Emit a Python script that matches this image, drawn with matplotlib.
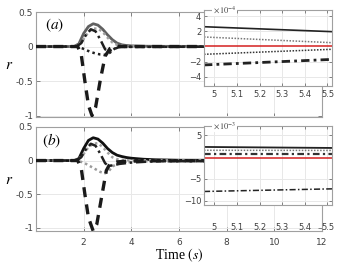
import matplotlib
matplotlib.use("Agg")
import matplotlib.pyplot as plt

plt.rcParams['mathtext.fontset'] = 'stix'
plt.rcParams['font.family'] = ['DejaVu Sans']

# ---------------- main data (a) ----------------
a_solid_t = [0, 1.6, 1.8, 2.0, 2.2, 2.4, 2.6, 2.8, 3.0, 3.2, 3.4, 3.6, 3.8, 4.0, 4.5, 5, 12]
a_solid_r = [0, 0, 0.04, 0.19, 0.29, 0.33, 0.31, 0.25, 0.17, 0.10, 0.05, 0.025, 0.015, 0.01, 0.005, 0.003, 0]
a_gdot_t = [0, 1.6, 1.8, 2.0, 2.2, 2.4, 2.6, 2.8, 3.0, 3.2, 3.4, 3.6, 4.0, 12]
a_gdot_r = [0, 0, 0.02, 0.11, 0.21, 0.26, 0.26, 0.21, 0.13, 0.06, 0.025, 0.01, 0.003, 0]
a_kdot_t = [0, 1.7, 1.9, 2.1, 2.3, 2.5, 2.7, 2.9, 3.1, 3.3, 3.5, 12]
a_kdot_r = [0, 0, -0.02, -0.05, -0.08, -0.10, -0.115, -0.12, -0.09, -0.03, -0.005, 0]
a_dd_t = [0, 1.7, 1.9, 2.1, 2.3, 2.5, 2.7, 2.9, 3.05, 3.25, 3.5, 12]
a_dd_r = [0, 0, 0.05, 0.17, 0.25, 0.22, 0.10, -0.04, -0.07, -0.04, -0.005, 0]
a_dash_t = [0, 1.75, 1.9, 2.05, 2.2, 2.35, 2.5, 2.7, 2.9, 3.1, 3.3, 12]
a_dash_r = [0, 0, -0.12, -0.50, -0.85, -1.0, -0.88, -0.48, -0.14, -0.03, 0, 0]

# ---------------- main data (b) ----------------
b_solid_t = [0, 1.6, 1.8, 2.0, 2.2, 2.4, 2.6, 2.8, 3.0, 3.2, 3.4, 3.6, 3.8, 4.0, 4.5, 5, 6, 12]
b_solid_r = [0, 0, 0.03, 0.18, 0.30, 0.34, 0.32, 0.26, 0.18, 0.12, 0.08, 0.06, 0.045, 0.035, 0.02, 0.012, 0.005, 0.002]
b_gdot_t = [0, 1.6, 1.8, 2.0, 2.2, 2.4, 2.6, 2.8, 3.0, 3.2, 3.4, 3.6, 4.0, 12]
b_gdot_r = [0, 0, 0.02, 0.10, 0.20, 0.25, 0.26, 0.20, 0.12, 0.05, 0.02, 0.01, 0.003, 0.002]
b_gdip_t = [0, 1.7, 1.9, 2.1, 2.3, 2.5, 2.7, 2.9, 3.05, 3.2, 3.4, 3.6, 4.0, 5.0, 12]
b_gdip_r = [0, 0, -0.02, -0.05, -0.09, -0.13, -0.17, -0.19, -0.16, -0.09, -0.05, -0.04, -0.02, -0.01, 0]
b_dd_t = [0, 1.7, 1.9, 2.1, 2.3, 2.5, 2.7, 2.9, 3.05, 3.25, 3.5, 4.0, 5.0, 12]
b_dd_r = [0, 0, 0.05, 0.17, 0.25, 0.22, 0.10, -0.04, -0.08, -0.07, -0.05, -0.03, -0.01, -0.007]
b_dash_t = [0, 1.75, 1.9, 2.05, 2.2, 2.4, 2.55, 2.75, 2.95, 3.1, 3.4, 4.0, 12]
b_dash_r = [0, 0, -0.12, -0.50, -0.85, -1.05, -0.95, -0.55, -0.15, -0.05, -0.02, -0.005, 0]

# ---------------- inset data ----------------
ins_t = [4.955, 5.52]
ia_solid = [2.6, 1.95]      # x1e-4
ia_gdot = [1.25, 0.5]
ia_red = [0, 0]
ia_kdot = [-1.03, -0.37]
ia_dd = [-2.43, -1.7]

ib_solid = [2.3, 2.07]      # x1e-3
ib_gdot = [1.54, 1.5]
ib_dd = [0.6, 0.6]
ib_red = [-0.23, -0.23]
ib_low = [-7.9, -7.3]

main_xticks = [2, 4, 6, 8, 10, 12]
main_yticks = [-1, -0.5, 0, 0.5]
main_yticklabels = ['-1', '-0.5', '0', '0.5']
ins_xticks = [5, 5.1, 5.2, 5.3, 5.4, 5.5]
ia_yticks = [-4, -2, 2, 4]
ib_yticks = [-10, -5, 5]

W, H = 338, 263
fig = plt.figure(figsize=(W / 100, H / 100), dpi=100)

def fr(x0, y0, x1, y1):
    return [x0 / W, 1 - y1 / H, (x1 - x0) / W, (y1 - y0) / H]

spine_c = '#a0a0a0'
grid_c = '#e8e8e8'
tick_c = '#404040'

def style_main(ax, ylim):
    ax.set_xlim(0, 12)
    ax.set_ylim(*ylim)
    ax.set_xticks(main_xticks)
    ax.set_yticks(main_yticks)
    ax.set_yticklabels(main_yticklabels)
    ax.grid(True, color=grid_c, lw=0.7)
    ax.set_axisbelow(True)
    for s in ax.spines.values():
        s.set_color(spine_c)
        s.set_linewidth(0.8)
    ax.tick_params(direction='in', length=3, width=0.6, color='#707070',
                   labelsize=6.5, labelcolor=tick_c, pad=2, top=True, right=True)
    ax.tick_params(axis='x', pad=5)
    ax.set_ylabel(r'$r$', rotation=0, fontsize=11, labelpad=5, va='center')

axa = fig.add_axes(fr(36, 12, 322, 117))
style_main(axa, (-1.02, 0.5))
axa.tick_params(labelbottom=False)
axa.plot(a_solid_t, a_solid_r, color='#606060', lw=2.0, ls='-', zorder=3)
axa.plot(a_gdot_t, a_gdot_r, color='#a0a0a0', lw=1.8, ls=(0, (1, 1.2)), zorder=3)
axa.plot(a_kdot_t, a_kdot_r, color='#202020', lw=1.8, ls=(0, (1, 1.3)), zorder=3)
axa.plot(a_dd_t, a_dd_r, color='#202020', lw=1.8, ls=(0, (4, 1.5, 1, 1.5)), zorder=3)
axa.plot(a_dash_t, a_dash_r, color='#1a1a1a', lw=2.4, ls=(0, (3, 2.2)), zorder=3)
axa.text(0.03, 0.87, r'$(a)$', transform=axa.transAxes, fontsize=11, va='center')

axb = fig.add_axes(fr(36, 127, 322, 231))
style_main(axb, (-1.05, 0.5))
axb.plot(b_solid_t, b_solid_r, color='#111111', lw=2.0, ls='-', zorder=3)
axb.plot(b_gdot_t, b_gdot_r, color='#a0a0a0', lw=1.8, ls=(0, (1, 1.2)), zorder=3)
axb.plot(b_gdip_t, b_gdip_r, color='#9a9a9a', lw=1.8, ls=(0, (1, 1.2)), zorder=3)
axb.plot(b_dd_t, b_dd_r, color='#202020', lw=1.8, ls=(0, (4, 1.5, 1, 1.5)), zorder=3)
axb.plot(b_dash_t, b_dash_r, color='#1a1a1a', lw=2.4, ls=(0, (3, 2.2)), zorder=3)
axb.text(0.02, 0.87, r'$(b)$', transform=axb.transAxes, fontsize=11, va='center')
axb.set_xlabel(r'Time $(s)$', fontsize=10, family='Liberation Serif', labelpad=0)

def style_inset(ax, ylim, yticks, xpad, exp):
    ax.set_xlim(ins_t[0], ins_t[1])
    ax.set_ylim(*ylim)
    ax.set_xticks(ins_xticks)
    ax.set_xticklabels(['5', '5.1', '5.2', '5.3', '5.4', '5.5'])
    ax.set_yticks(yticks)
    ax.grid(True, color=grid_c, lw=0.7)
    ax.set_axisbelow(True)
    for s in ax.spines.values():
        s.set_color(spine_c)
        s.set_linewidth(0.8)
    ax.tick_params(direction='in', length=2.5, width=0.6, color='#707070',
                   labelsize=6, labelcolor=tick_c, top=True, right=True)
    ax.tick_params(axis='x', pad=xpad)
    ax.tick_params(axis='y', pad=2)
    ax.text(0.07, 1.0, exp, transform=ax.transAxes, fontsize=6, color=tick_c,
            va='center', ha='left', bbox=dict(fc='white', ec='none', pad=0.5))

ia = fig.add_axes(fr(204, 10, 332, 86))
style_inset(ia, (-5.2, 4.8), ia_yticks, 3, r'$\times\,10^{-4}$')
ia.plot(ins_t, ia_solid, color='#222222', lw=1.2, ls='-')
ia.plot(ins_t, ia_gdot, color='#777777', lw=1.1, ls=(0, (1, 1)))
ia.plot(ins_t, ia_red, color='#d42020', lw=1.1, ls='-')
ia.plot(ins_t, ia_kdot, color='#333333', lw=1.1, ls=(0, (1, 1)))
ia.plot(ins_t, ia_dd, color='#222222', lw=2.0, ls=(0, (3, 1.5, 1, 1.5)))

ib = fig.add_axes(fr(204, 126, 332, 205))
style_inset(ib, (-11.0, 7.1), ib_yticks, 13, r'$\times\,10^{-3}$')
ib.plot(ins_t, ib_solid, color='#222222', lw=1.3, ls='-')
ib.plot(ins_t, ib_gdot, color='#777777', lw=1.1, ls=(0, (1, 1)))
ib.plot(ins_t, ib_dd, color='#333333', lw=1.6, ls=(0, (3, 1.5, 1, 1.5)))
ib.plot(ins_t, ib_red, color='#d42020', lw=1.1, ls='-')
ib.plot(ins_t, ib_low, color='#222222', lw=1.1, ls=(0, (4, 1.5, 1, 1.5)))

fig.savefig('out.png', dpi=100)
